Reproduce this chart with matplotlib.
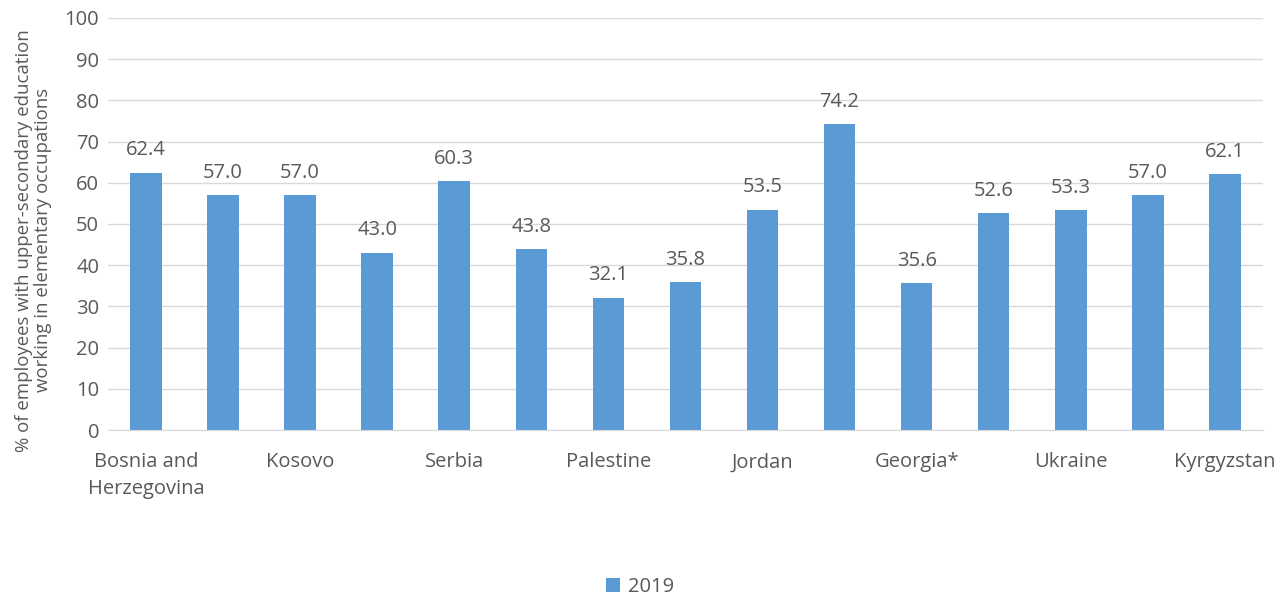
import numpy as np
from matplotlib import pyplot as plt

# only every other category name is shown on the axis, as in the original chart
countries = ["Bosnia and\nHerzegovina", "Montenegro", "Kosovo", "North Macedonia", "Serbia",
             "Albania", "Palestine", "Lebanon", "Jordan", "Egypt", "Georgia*", "Armenia",
             "Ukraine", "Moldova", "Kyrgyzstan"]
values_2019 = [62.4, 57.0, 57.0, 43.0, 60.3, 43.8, 32.1, 35.8, 53.5, 74.2, 35.6, 52.6, 53.3, 57.0, 62.1]
series_name = "2019"

plt.rcParams['font.family'] = ['Open Sans', 'DejaVu Sans']
text_col = "#595959"
bar_col = "#5B9BD5"

fig = plt.figure(figsize=(12.8, 5.96), dpi=100)
ax = fig.add_axes([0.084, 0.2785, 0.903, 0.6915])

x = np.arange(len(countries))
bars = ax.bar(x, values_2019, 0.41, color=bar_col, label=series_name, zorder=2)

for xi, v in zip(x, values_2019):
    ax.text(xi, v + 3.0, f"{v:.1f}", ha="center", va="bottom", fontsize=14.5, color=text_col)

ax.set_xlim(-0.5, len(countries) - 0.5)
ax.set_ylim(0, 100)
ax.set_yticks(range(0, 101, 10))
ax.yaxis.grid(True, color="#D9D9D9", linewidth=1, zorder=0)
ax.set_xticks(x[::2])
ax.set_xticklabels(countries[::2], fontsize=14.5, color=text_col, linespacing=1.45)
ax.tick_params(axis="y", labelsize=14.5, labelcolor=text_col, length=0, pad=6)
ax.tick_params(axis="x", length=0, pad=16)
for s in ["top", "right", "left"]:
    ax.spines[s].set_visible(False)
ax.spines["bottom"].set_color("#D9D9D9")

ax.set_ylabel("% of employees with upper-secondary education\nworking in elementary occupations",
              fontsize=13.4, color=text_col, linespacing=1.1)
ax.yaxis.set_label_coords(-0.048, 0.46)

fig.legend(handles=[bars], labels=[series_name], loc="center", bbox_to_anchor=(0.5, 0.015),
           frameon=False, fontsize=14.5, labelcolor=text_col, handlelength=0.7, handleheight=0.7,
           handletextpad=0.4)

fig.savefig("out.png", dpi=100)
